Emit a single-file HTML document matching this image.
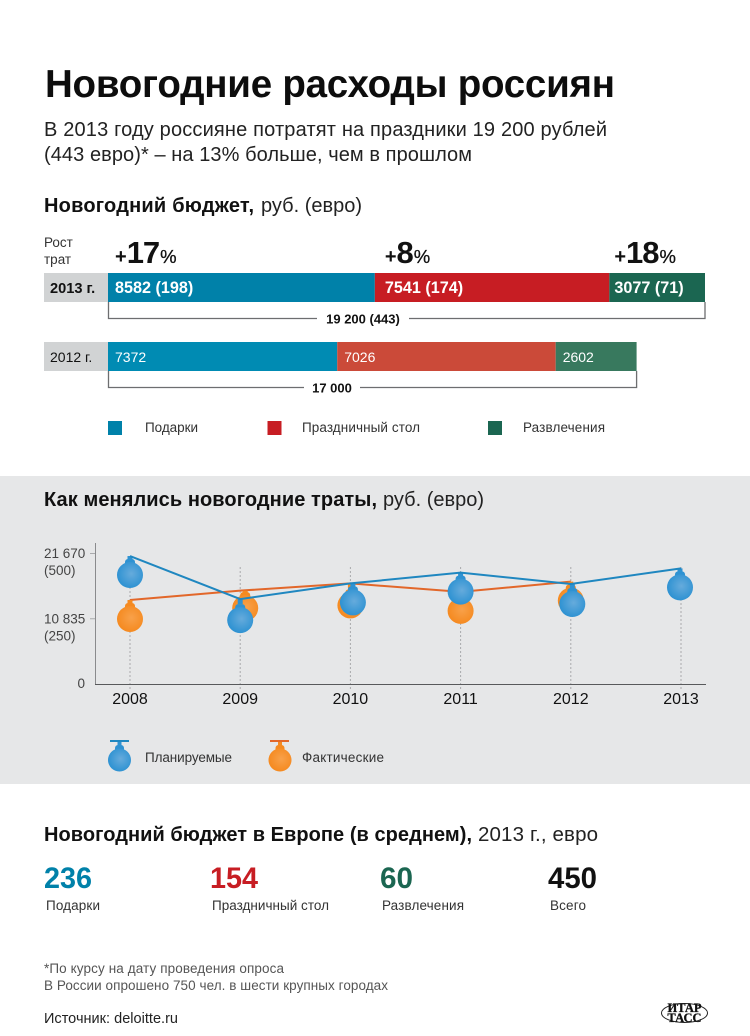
<!DOCTYPE html>
<html lang="ru">
<head>
<meta charset="utf-8">
<title>Новогодние расходы россиян</title>
<style>
html,body{margin:0;padding:0;background:#fff;width:750px;height:1036px;overflow:hidden}
svg{display:block;fill:#1a1a1a}
text{font-family:"Liberation Sans","Noto Sans CJK SC",sans-serif}
.b{font-weight:700}
</style>
</head>
<body>
<svg id="page" xmlns="http://www.w3.org/2000/svg" width="750" height="1036" viewBox="0 0 750 1036">
<defs>
<radialGradient id="gradBlue" cx="55%" cy="45%" r="55%"><stop offset="0" stop-color="#66abdc"/><stop offset="1" stop-color="#2e92d2"/></radialGradient>
<radialGradient id="gradOrange" cx="55%" cy="45%" r="55%"><stop offset="0" stop-color="#f8a14a"/><stop offset="1" stop-color="#f58a20"/></radialGradient>
</defs>
<rect x="0" y="476" width="750" height="308" fill="#e6e7e8"/>

<text class="b" x="45" y="97" font-size="38.5" textLength="570" fill="#0d0d0d">Новогодние расходы россиян</text>
<text x="44" y="136" font-size="20" textLength="563" fill="#222">В 2013 году россияне потратят на праздники 19 200 рублей</text>
<text x="44" y="161" font-size="20" textLength="428" fill="#222">(443 евро)* – на 13% больше, чем в прошлом</text>

<text class="b" x="44" y="212" font-size="20" textLength="210" fill="#111">Новогодний бюджет,</text>
<text x="261" y="212" font-size="20" textLength="101" fill="#222">руб. (евро)</text>
<text x="44" y="247" font-size="13.5" fill="#333">Рост</text>
<text x="44" y="264" font-size="13.5" fill="#333">трат</text>

<g id="budgetChart"></g>

<g>
<rect x="108" y="421" width="14" height="14" fill="#0081a9"/>
<text x="145" y="432" font-size="13.5" textLength="53" fill="#333">Подарки</text>
<rect x="267.500" y="421" width="14" height="14" fill="#c71d23"/>
<text x="302" y="432" font-size="13.5" textLength="118" fill="#333">Праздничный стол</text>
<rect x="488" y="421" width="14" height="14" fill="#1b6651"/>
<text x="523" y="432" font-size="13.5" textLength="82" fill="#333">Развлечения</text>
</g>

<text class="b" x="44" y="506" font-size="20" textLength="333" fill="#111">Как менялись новогодние траты,</text>
<text x="383" y="506" font-size="20" textLength="101" fill="#222">руб. (евро)</text>

<g id="trendChart"></g>

<g>
<g>
<rect x="110" y="740" width="19" height="2" fill="#1f87c0"/>
<rect x="117.500" y="742" width="4" height="4" fill="#2e92d2"/>
<rect x="115" y="745" width="9" height="9" rx="3" fill="#2e92d2"/>
<circle cx="119.500" cy="760" r="11.500" fill="url(#gradBlue)"/>
<text x="145" y="762" font-size="13.5" textLength="87" fill="#333">Планируемые</text>
</g>
<g>
<rect x="270" y="740" width="19" height="2" fill="#e2672a"/>
<rect x="278" y="742" width="4" height="4" fill="#f58a20"/>
<rect x="275.500" y="745" width="9" height="9" rx="3" fill="#f58a20"/>
<circle cx="280" cy="760" r="11.500" fill="url(#gradOrange)"/>
<text x="302" y="762" font-size="13.5" textLength="82" fill="#333">Фактические</text>
</g>
</g>

<text class="b" x="44" y="841" font-size="20" textLength="428" fill="#111">Новогодний бюджет в Европе (в среднем),</text>
<text x="478" y="841" font-size="20.5" textLength="120" fill="#222">2013 г., евро</text>

<text class="b" x="44" y="888" font-size="30" textLength="48" lengthAdjust="spacingAndGlyphs" fill="#0081a9">236</text>
<text x="46" y="910" font-size="13.5" textLength="54" fill="#333">Подарки</text>
<text class="b" x="210" y="888" font-size="30" textLength="48" lengthAdjust="spacingAndGlyphs" fill="#c71d23">154</text>
<text x="212" y="910" font-size="13.5" textLength="117" fill="#333">Праздничный стол</text>
<text class="b" x="380" y="888" font-size="30" textLength="33" lengthAdjust="spacingAndGlyphs" fill="#1b6651">60</text>
<text x="382" y="910" font-size="13.5" textLength="82" fill="#333">Развлечения</text>
<text class="b" x="548" y="888" font-size="30" textLength="49" lengthAdjust="spacingAndGlyphs" fill="#111">450</text>
<text x="550" y="910" font-size="13.5" textLength="36" fill="#333">Всего</text>

<text x="44" y="973" font-size="13.500" textLength="240" fill="#555">*По курсу на дату проведения  опроса</text>
<text x="44" y="990" font-size="13.500" textLength="344" fill="#555">В России опрошено 750 чел. в шести крупных городах</text>
<text x="44" y="1023" font-size="14.500" textLength="134" fill="#222">Источник: deloitte.ru</text>

<g>
<ellipse cx="684.500" cy="1013" rx="23" ry="9.500" fill="none" stroke="#222" stroke-width="1"/>
<text x="684.500" y="1012" font-size="12.5" font-weight="700" text-anchor="middle" stroke="#111" stroke-width="0.3" fill="#111" style="font-family:'Liberation Serif',serif">ИТАР</text>
<text x="684.500" y="1022" font-size="12.5" font-weight="700" text-anchor="middle" stroke="#111" stroke-width="0.3" fill="#111" style="font-family:'Liberation Serif',serif">ТАСС</text>
</g>
</svg>

<script>
/* ---------- budget chart data ---------- */
const budgetCategories = ['gifts', 'table', 'entertainment'];
const rubles2013 = [8582, 7541, 3077];
const euros2013 = [198, 174, 71];
const rubles2012 = [7372, 7026, 2602];
const growthPercent = [17, 8, 18];
const total2013Label = '19 200 (443)';
const total2012Label = '17 000';

/* ---------- trend chart data ---------- */
const years = ['2008', '2009', '2010', '2011', '2012', '2013'];
const plannedRubles = [21250, 14100, 16700, 18500, 16600, 19200];
const actualRubles = [13950, 15500, 16700, 15300, 17000, null];
const yTickValues = [21670, 10835, 0];
const yTickRubleLabels = ['21 670', '10 835', '0'];
const yTickEuroLabels = ['(500)', '(250)', ''];

const SVG_NS = 'http://www.w3.org/2000/svg';
function make(tag, parent, attrs, txt) {
  const el = document.createElementNS(SVG_NS, tag);
  Object.keys(attrs).forEach(function (k) { el.setAttribute(k, attrs[k]); });
  if (txt !== undefined) el.textContent = txt;
  parent.appendChild(el);
  return el;
}

/* ---------- budget bars ---------- */
const budgetRoot = document.getElementById('budgetChart');
const barX0 = 108;
const barScale = 597 / 19200;
const xBudget = function (v) { return barX0 + v * barScale; };
const colors2013 = ['#0081a9', '#c71d23', '#1b6651'];
const colors2012 = ['#008bb3', '#cb4a39', '#38795e'];
const inset2013 = [7, 10, 5];
const bracketColor = '#6d6e70';

function sum(a) { return a.reduce(function (s, v) { return s + v; }, 0); }

function drawStack(year, values, colors, barY, textFn, insetFn, weight, size) {
  const yearBox = make('rect', budgetRoot, { x: 44, y: barY, width: 64, height: 29, fill: '#d1d3d4' });
  
  
  const yearText = make('text', budgetRoot, { x: 50, y: barY + 20, 'font-size': weight === 700 ? 14.6 : 14, 'font-weight': weight, fill: '#111' }, year + ' г.');
  
  
  let acc = 0;
  values.forEach(function (v, i) {
    const x0 = xBudget(acc);
    const x1 = xBudget(acc + v);
    const seg = make('rect', budgetRoot, { x: x0, y: barY, width: x1 - x0, height: 29, fill: colors[i] });
    
    
    const lab = make('text', budgetRoot, { x: x0 + insetFn(i), y: barY + 20, 'font-size': size, 'font-weight': weight, fill: '#fff' }, textFn(i));
    
    
    acc += v;
  });
}

drawStack('2013', rubles2013, colors2013, 273, function (i) { return rubles2013[i] + ' (' + euros2013[i] + ')'; }, function (i) { return inset2013[i]; }, 700, 16.2);
drawStack('2012', rubles2012, colors2012, 342, function (i) { return String(rubles2012[i]); }, function () { return 7; }, 400, 14);

function drawBracket(year, total, lineY, topY, gapStart, gapEnd, label, labelX) {
  const right = xBudget(total);
  const left = make('path', budgetRoot, { d: 'M108.5 ' + topY + 'V' + lineY + 'H' + gapStart, fill: 'none', stroke: bracketColor, 'stroke-width': 1.3 });
  
  
  const rightPath = make('path', budgetRoot, { d: 'M' + gapEnd + ' ' + lineY + 'H' + right + 'V' + topY, fill: 'none', stroke: bracketColor, 'stroke-width': 1.3 });
  
  
  const t = make('text', budgetRoot, { x: labelX, y: lineY + 5, 'font-size': 13, 'font-weight': 700, 'text-anchor': 'middle', fill: '#111' }, label);
  
  
}
drawBracket('2013', sum(rubles2013), 318.5, 302, 317, 409, total2013Label, 363);
drawBracket('2012', sum(rubles2012), 387.5, 371, 304, 360, total2012Label, 332);

/* growth labels above the 2013 bar */
let growthAcc = 0;
growthPercent.forEach(function (g, i) {
  const gx = xBudget(growthAcc) + inset2013[i];
  const t = make('text', budgetRoot, { x: gx, y: 263, 'font-weight': 700, 'font-size': 20, fill: '#111' });
  
  
  make('tspan', t, {}, '+');
  make('tspan', t, { 'font-size': 31, 'letter-spacing': -1 }, String(g));
  make('tspan', t, { 'font-size': 18.5, 'font-weight': 400, dx: 1, stroke: '#111', 'stroke-width': 0.3 }, '%');
  growthAcc += rubles2013[i];
});

/* ---------- trend chart ---------- */
const trendRoot = document.getElementById('trendChart');
const xFirst = 130;
const xStep = 110.2;
const yZero = 684;
const yFull = 553.5;
const xTrend = function (i) { return xFirst + i * xStep; };
const yTrend = function (v) { return yZero - (v / yTickValues[0]) * (yZero - yFull); };
const baubleR = 13;
/* decorative hang offsets of each ornament relative to its data point */
const plannedSway = [[0, 19], [0, 21], [2.5, 19], [0, 19], [1.5, 20], [-1, 19]];
const actualSway = [[0, 19], [5, 17.5], [0, 22], [0, 19], [0, 19], [0, 19]];

years.forEach(function (yr, i) {
  const g = make('line', trendRoot, { x1: xTrend(i), x2: xTrend(i), y1: 567, y2: 690, stroke: '#a9aaac', 'stroke-width': 1, 'stroke-dasharray': '2 2' });
  
  
  const t = make('text', trendRoot, { x: xTrend(i), y: 704, 'font-size': 16, 'text-anchor': 'middle', fill: '#111' }, yr);
  
  
});

const yAxis = make('line', trendRoot, { x1: 95.5, x2: 95.5, y1: 543, y2: 684, stroke: '#8a8b8d', 'stroke-width': 1 });


const xAxis = make('line', trendRoot, { x1: 95, x2: 706, y1: 684.5, y2: 684.5, stroke: '#58595b', 'stroke-width': 1 });



yTickValues.forEach(function (v, i) {
  const y = yTrend(v);
  if (v !== 0) {
    const tick = make('line', trendRoot, { x1: 90, x2: 95, y1: y, y2: y, stroke: '#a9aaac', 'stroke-width': 1 });
    
    
  }
  const lab = make('text', trendRoot, v === 0
    ? { x: 85, y: y + 4, 'font-size': 13.5, 'text-anchor': 'end', fill: '#444' }
    : { x: 44, y: y + 4.5, 'font-size': 13.5, fill: '#444' }, yTickRubleLabels[i]);
  
  
  if (yTickEuroLabels[i]) {
    const eur = make('text', trendRoot, { x: 44, y: y + 21.5, 'font-size': 13.5, fill: '#444' }, yTickEuroLabels[i]);
    
    
  }
});

function linePath(values) {
  let d = '';
  values.forEach(function (v, i) {
    if (v === null) return;
    d += (d ? 'L' : 'M') + xTrend(i) + ' ' + yTrend(v);
  });
  return d;
}

function drawBaubles(series, values, sway, fill, solid) {
  values.forEach(function (v, i) {
    if (v === null) return;
    const x = xTrend(i) + sway[i][0];
    const y = yTrend(v);
    const drop = sway[i][1];
    const hook = make('rect', trendRoot, { x: x - 2.5, y: y, width: 5, height: 5, fill: solid });
    
    
    const cap = make('rect', trendRoot, { x: x - 5, y: y + drop - 16, width: 10, height: 10, rx: 3, fill: solid });
    
    
    const ball = make('circle', trendRoot, { cx: x, cy: y + drop, r: baubleR, fill: fill });
    
    
  });
}

const actualLine = make('path', trendRoot, { d: linePath(actualRubles), fill: 'none', stroke: '#e2672a', 'stroke-width': 2 });


drawBaubles('actual', actualRubles, actualSway, 'url(#gradOrange)', '#f58a20');
drawBaubles('planned', plannedRubles, plannedSway, 'url(#gradBlue)', '#2e92d2');
const plannedLine = make('path', trendRoot, { d: linePath(plannedRubles), fill: 'none', stroke: '#1f87c0', 'stroke-width': 2 });


</script>
</body>
</html>
